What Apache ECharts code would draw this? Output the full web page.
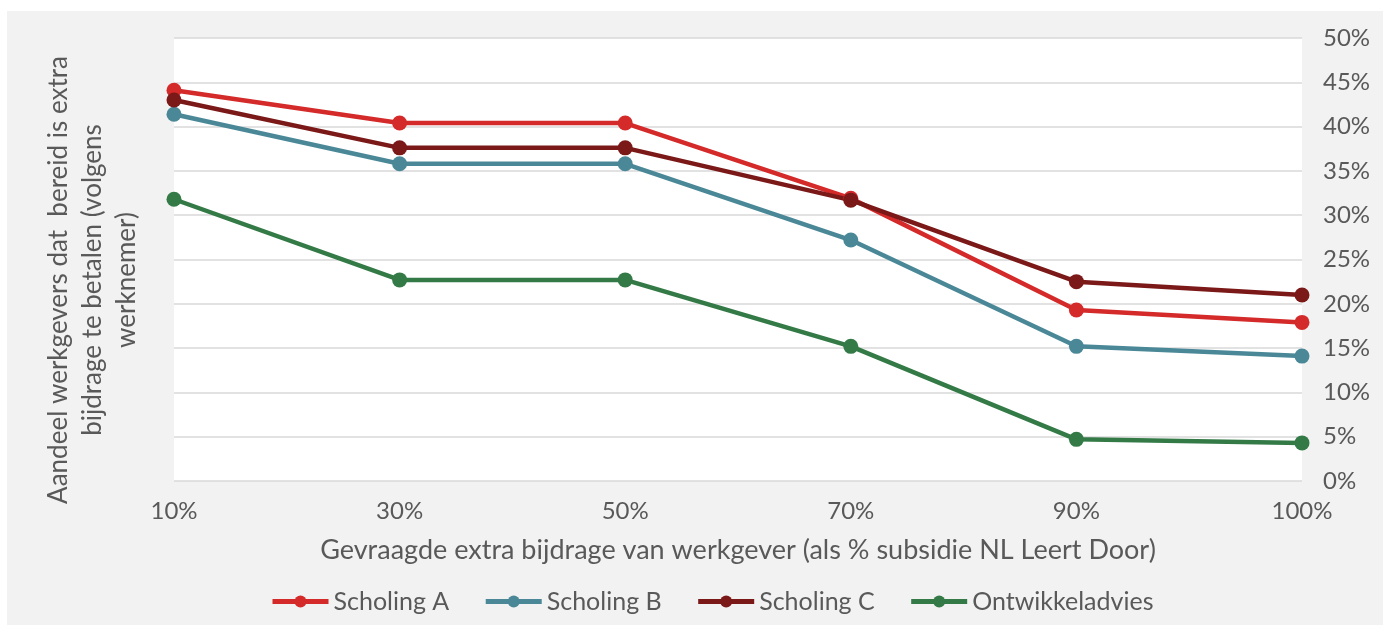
<!DOCTYPE html>
<html><head><meta charset="utf-8">
<script src="https://cdn.jsdelivr.net/npm/echarts@6/dist/echarts.min.js"></script>
<style>html,body{margin:0;padding:0;background:#fff}#c{width:1387px;height:630px}</style>
</head><body><div id="c"></div>
<script>
const categories = ['10%','30%','50%','70%','90%','100%'];
const scholingA = [44.1, 40.4, 40.4, 31.9, 19.3, 17.9];
const scholingB = [41.4, 35.8, 35.8, 27.2, 15.2, 14.1];
const scholingC = [43.0, 37.6, 37.6, 31.7, 22.5, 21.0];
const ontwikkeladvies = [31.8, 22.7, 22.7, 15.2, 4.7, 4.3];
const seriesNames = ['Scholing A','Scholing B','Scholing C','Ontwikkeladvies'];
const colors = ['#d42a2a','#4a8898','#7b1818','#347a47'];
const font = 'Lato, "Open Sans", sans-serif';
const txt = '#595959';

const chart = echarts.init(document.getElementById('c'), null, {renderer:'canvas'});
const mk = (name, data, color) => ({
  name, type:'line', data, color,
  symbol:'circle', symbolSize:15,
  lineStyle:{width:4.5, color},
  itemStyle:{color},
  emphasis:{disabled:true}
});
chart.setOption({
  animation:false,
  backgroundColor:'#ffffff',
  textStyle:{fontFamily:font},
  graphic:[
    {type:'rect', z:-100, shape:{x:7, y:11, width:1376, height:614}, style:{fill:'#f2f2f2'}},
    {type:'text', x:93, y:280, rotation:Math.PI/2, z:10,
     style:{text:'Aandeel werkgevers dat  bereid is extra\nbijdrage te betalen (volgens\nwerknemer)',
            fill:txt, font:'26px '+font, align:'center', verticalAlign:'middle', lineHeight:34}}
  ],
  grid:{left:174, right:85, top:38, bottom:149, show:true, backgroundColor:'#ffffff', borderWidth:0},
  legend:{
    left:265, top:584, itemWidth:56, itemHeight:15, itemGap:34,
    lineStyle:{width:5},
    textStyle:{fontSize:25, color:txt, fontFamily:font},
    data:seriesNames
  },
  xAxis:{
    type:'category', data:categories, boundaryGap:false,
    axisLine:{show:false}, axisTick:{show:false},
    axisLabel:{fontSize:24, color:txt, margin:18, fontFamily:font},
    name:'Gevraagde extra bijdrage van werkgever (als % subsidie NL Leert Door)',
    nameLocation:'middle', nameGap:56,
    nameTextStyle:{fontSize:27, color:txt, fontFamily:font}
  },
  yAxis:{
    type:'value', position:'right', min:0, max:50, interval:5,
    axisLine:{show:false}, axisTick:{show:false},
    axisLabel:{fontSize:24, color:txt, margin:21, formatter:'{value}%', fontFamily:font},
    splitLine:{lineStyle:{color:'#d9d9d9', width:1.5}}
  },
  series:[
    mk(seriesNames[0], scholingA, colors[0]),
    mk(seriesNames[1], scholingB, colors[1]),
    mk(seriesNames[2], scholingC, colors[2]),
    mk(seriesNames[3], ontwikkeladvies, colors[3])
  ]
});
</script></body></html>
